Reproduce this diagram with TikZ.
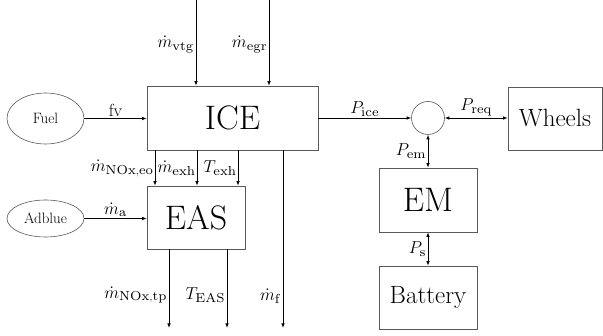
\documentclass[tikz,border=0pt]{standalone}
\usetikzlibrary{arrows.meta,shapes.geometric}
\DeclareFontShape{OT1}{cmr}{m}{n}{<-6>cmr5<6-7>cmr6<7-8>cmr7<8-9>cmr8<9-10>cmr9<10-12>cmr10<12->cmr12}{}
\DeclareFontFamily{OT1}{cmrsub}{}
\DeclareFontShape{OT1}{cmrsub}{m}{n}{<-> cmr7}{}
\DeclareMathAlphabet{\mathsub}{OT1}{cmrsub}{m}{n}
\DeclareMathSizes{17.5}{17.5}{13}{10}
\begin{document}
\begin{tikzpicture}[x=1pt,y=-1pt,
  blk/.style={draw=black!65,line width=0.6pt,minimum width=#1,inner sep=0pt},
  bigtxt/.style={font=\fontsize{34}{38}\selectfont},
  midtxt/.style={font=\fontsize{25}{28}\selectfont},
  ell/.style={ellipse,draw=black!65,line width=0.6pt,inner sep=0pt,font=\fontsize{15}{18}\selectfont},
  lbl/.style={font=\fontsize{17.5}{20}\selectfont,inner sep=1.5pt},
  arr/.style={line width=0.8pt,-{Latex[length=4.5pt,width=3.5pt]}},
  darr/.style={line width=0.8pt,{Latex[length=4.5pt,width=3.5pt]}-{Latex[length=4.5pt,width=3.5pt]}}]
\useasboundingbox (0,0) rectangle (603,336);
% nodes
\node[blk=171pt,minimum height=64pt,bigtxt] (ICE) at (232.5,118) {ICE};
\node[blk=98pt,minimum height=63pt,bigtxt] (EAS) at (196,217.5) {EAS};
\node[ell,minimum width=77pt,minimum height=51pt] (Fuel) at (45.5,118.5) {Fuel};
\node[ell,minimum width=77pt,minimum height=37pt] (Adblue) at (45.5,218.5) {Adblue};
\node[circle,draw=black!65,line width=0.6pt,minimum size=33pt,inner sep=0pt] (sum) at (428,118) {};
\node[blk=94pt,minimum height=63pt,midtxt] (Wheels) at (555,118.5) {Wheels};
\node[blk=98pt,minimum height=64pt,bigtxt] (EM) at (428,200) {EM};
\node[blk=98pt,minimum height=63pt,midtxt] (Battery) at (428,297.5) {Battery};
% free ends
\coordinate (vtg) at (196,0);
\coordinate (egr) at (269,0);
\coordinate (xeo) at (155,0);
\coordinate (xexh) at (197,0);
\coordinate (Texh) at (238,0);
\coordinate (mf) at (283,328);
\coordinate (tp) at (169,328);
\coordinate (TEAS) at (227,328);
% connectors
\draw[arr] (Fuel.east) -- node[lbl,above] {fv} (Fuel.east -| ICE.west);
\draw[arr] (Adblue.east) -- node[lbl,above] {$\dot m_{\mathsub{a}}$} (Adblue.east -| EAS.west);
\draw[arr] (vtg) -- node[lbl,left,pos=0.52] {$\dot m_{\mathsub{vtg}}$} (vtg |- ICE.north);
\draw[arr] (egr) -- node[lbl,left,pos=0.52] {$\dot m_{\mathsub{egr}}$} (egr |- ICE.north);
\draw[arr] (xeo |- ICE.south) -- node[lbl,left,inner sep=1pt] {$\dot m_{\mathsub{NOx,eo}}$} (xeo |- EAS.north);
\draw[arr] (xexh |- ICE.south) -- node[lbl,left,inner sep=1pt] {$\dot m_{\mathsub{exh}}$} (xexh |- EAS.north);
\draw[arr] (Texh |- ICE.south) -- node[lbl,left,inner sep=1pt] {$T_{\mathsub{exh}}$} (Texh |- EAS.north);
\draw[arr] (mf |- ICE.south) -- node[lbl,left,pos=0.82] {$\dot m_{\mathsub{f}}$} (mf);
\draw[arr] (tp |- EAS.south) -- node[lbl,left,pos=0.58] {$\dot m_{\mathsub{NOx,tp}}$} (tp);
\draw[arr] (TEAS |- EAS.south) -- node[lbl,left,pos=0.58] {$T_{\mathsub{EAS}}$} (TEAS);
\draw[arr] (ICE.east) -- node[lbl,above] {$P_{\mathsub{ice}}$} (sum.west);
\draw[darr] (sum.east) -- node[lbl,above] {$P_{\mathsub{req}}$} (Wheels.west |- sum.east);
\draw[darr] (sum.south) -- node[lbl,left] {$P_{\mathsub{em}}$} (EM.north);
\draw[darr] (EM.south) -- node[lbl,left] {$P_{\mathsub{s}}$} (Battery.north);
\end{tikzpicture}
\end{document}
